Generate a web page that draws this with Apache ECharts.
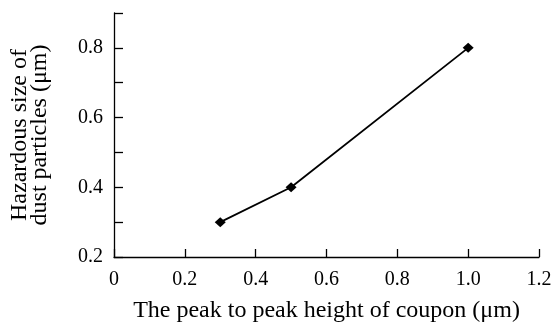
<!DOCTYPE html>
<html>
<head>
<meta charset="utf-8">
<script src="https://cdn.jsdelivr.net/npm/echarts@6/dist/echarts.min.js"></script>
<style>
  html, body { margin: 0; padding: 0; background: #fff; }
  #chart { width: 553px; height: 324px; }
</style>
</head>
<body>
<div id="chart"></div>
<script>
// peak-to-peak height of coupon (µm) vs hazardous dust particle size (µm)
const peakHeight = [0.3, 0.5, 1.0];
const hazardSize = [0.3, 0.4, 0.8];

const xTitle = 'The peak to peak height of coupon (\u03bcm)';
const yTitle = 'Hazardous size of\ndust particles (\u03bcm)';

const font = 'Liberation Serif';

let myChart = echarts.init(document.getElementById('chart'));

myChart.setOption({
    animation: false,
    grid: { left: 114, right: 14, top: 13, bottom: 67, outerBoundsMode: 'none', containLabel: false },
    xAxis: {
        type: 'value',
        min: 0,
        max: 1.2,
        interval: 0.2,
        name: xTitle,
        nameLocation: 'middle',
        nameGap: 42,
        nameTextStyle: { fontFamily: font, fontSize: 24, color: '#000' },
        axisLine: { lineStyle: { color: '#000', width: 1.3 } },
        axisTick: { inside: true, length: 8, lineStyle: { color: '#000', width: 1.3 } },
        axisLabel: {
            fontFamily: font, fontSize: 20, color: '#000', margin: 13,
            formatter: v => (v === 0 ? '0' : v.toFixed(1))
        },
        splitLine: { show: false }
    },
    yAxis: {
        type: 'value',
        min: 0.2,
        max: 0.9,
        interval: 0.1,
        name: yTitle,
        nameLocation: 'middle',
        nameGap: 64,
        nameTextStyle: { fontFamily: font, fontSize: 24, color: '#000', lineHeight: 20 },
        axisLine: { show: true, lineStyle: { color: '#000', width: 1.3 } },
        axisTick: { inside: true, length: 9, lineStyle: { color: '#000', width: 1.3 } },
        axisLabel: {
            fontFamily: font, fontSize: 20, color: '#000', margin: 11,
            formatter: v => (Math.round(v * 10) % 2 === 0 && Math.round(v * 10) < 9 ? v.toFixed(1) : '')
        },
        splitLine: { show: false }
    },
    series: [{
        type: 'line',
        data: peakHeight.map((x, i) => [x, hazardSize[i]]),
        symbol: 'diamond',
        symbolSize: [11, 10],
        lineStyle: { color: '#000', width: 1.8 },
        itemStyle: { color: '#000' }
    }]
});
</script>
</body>
</html>
